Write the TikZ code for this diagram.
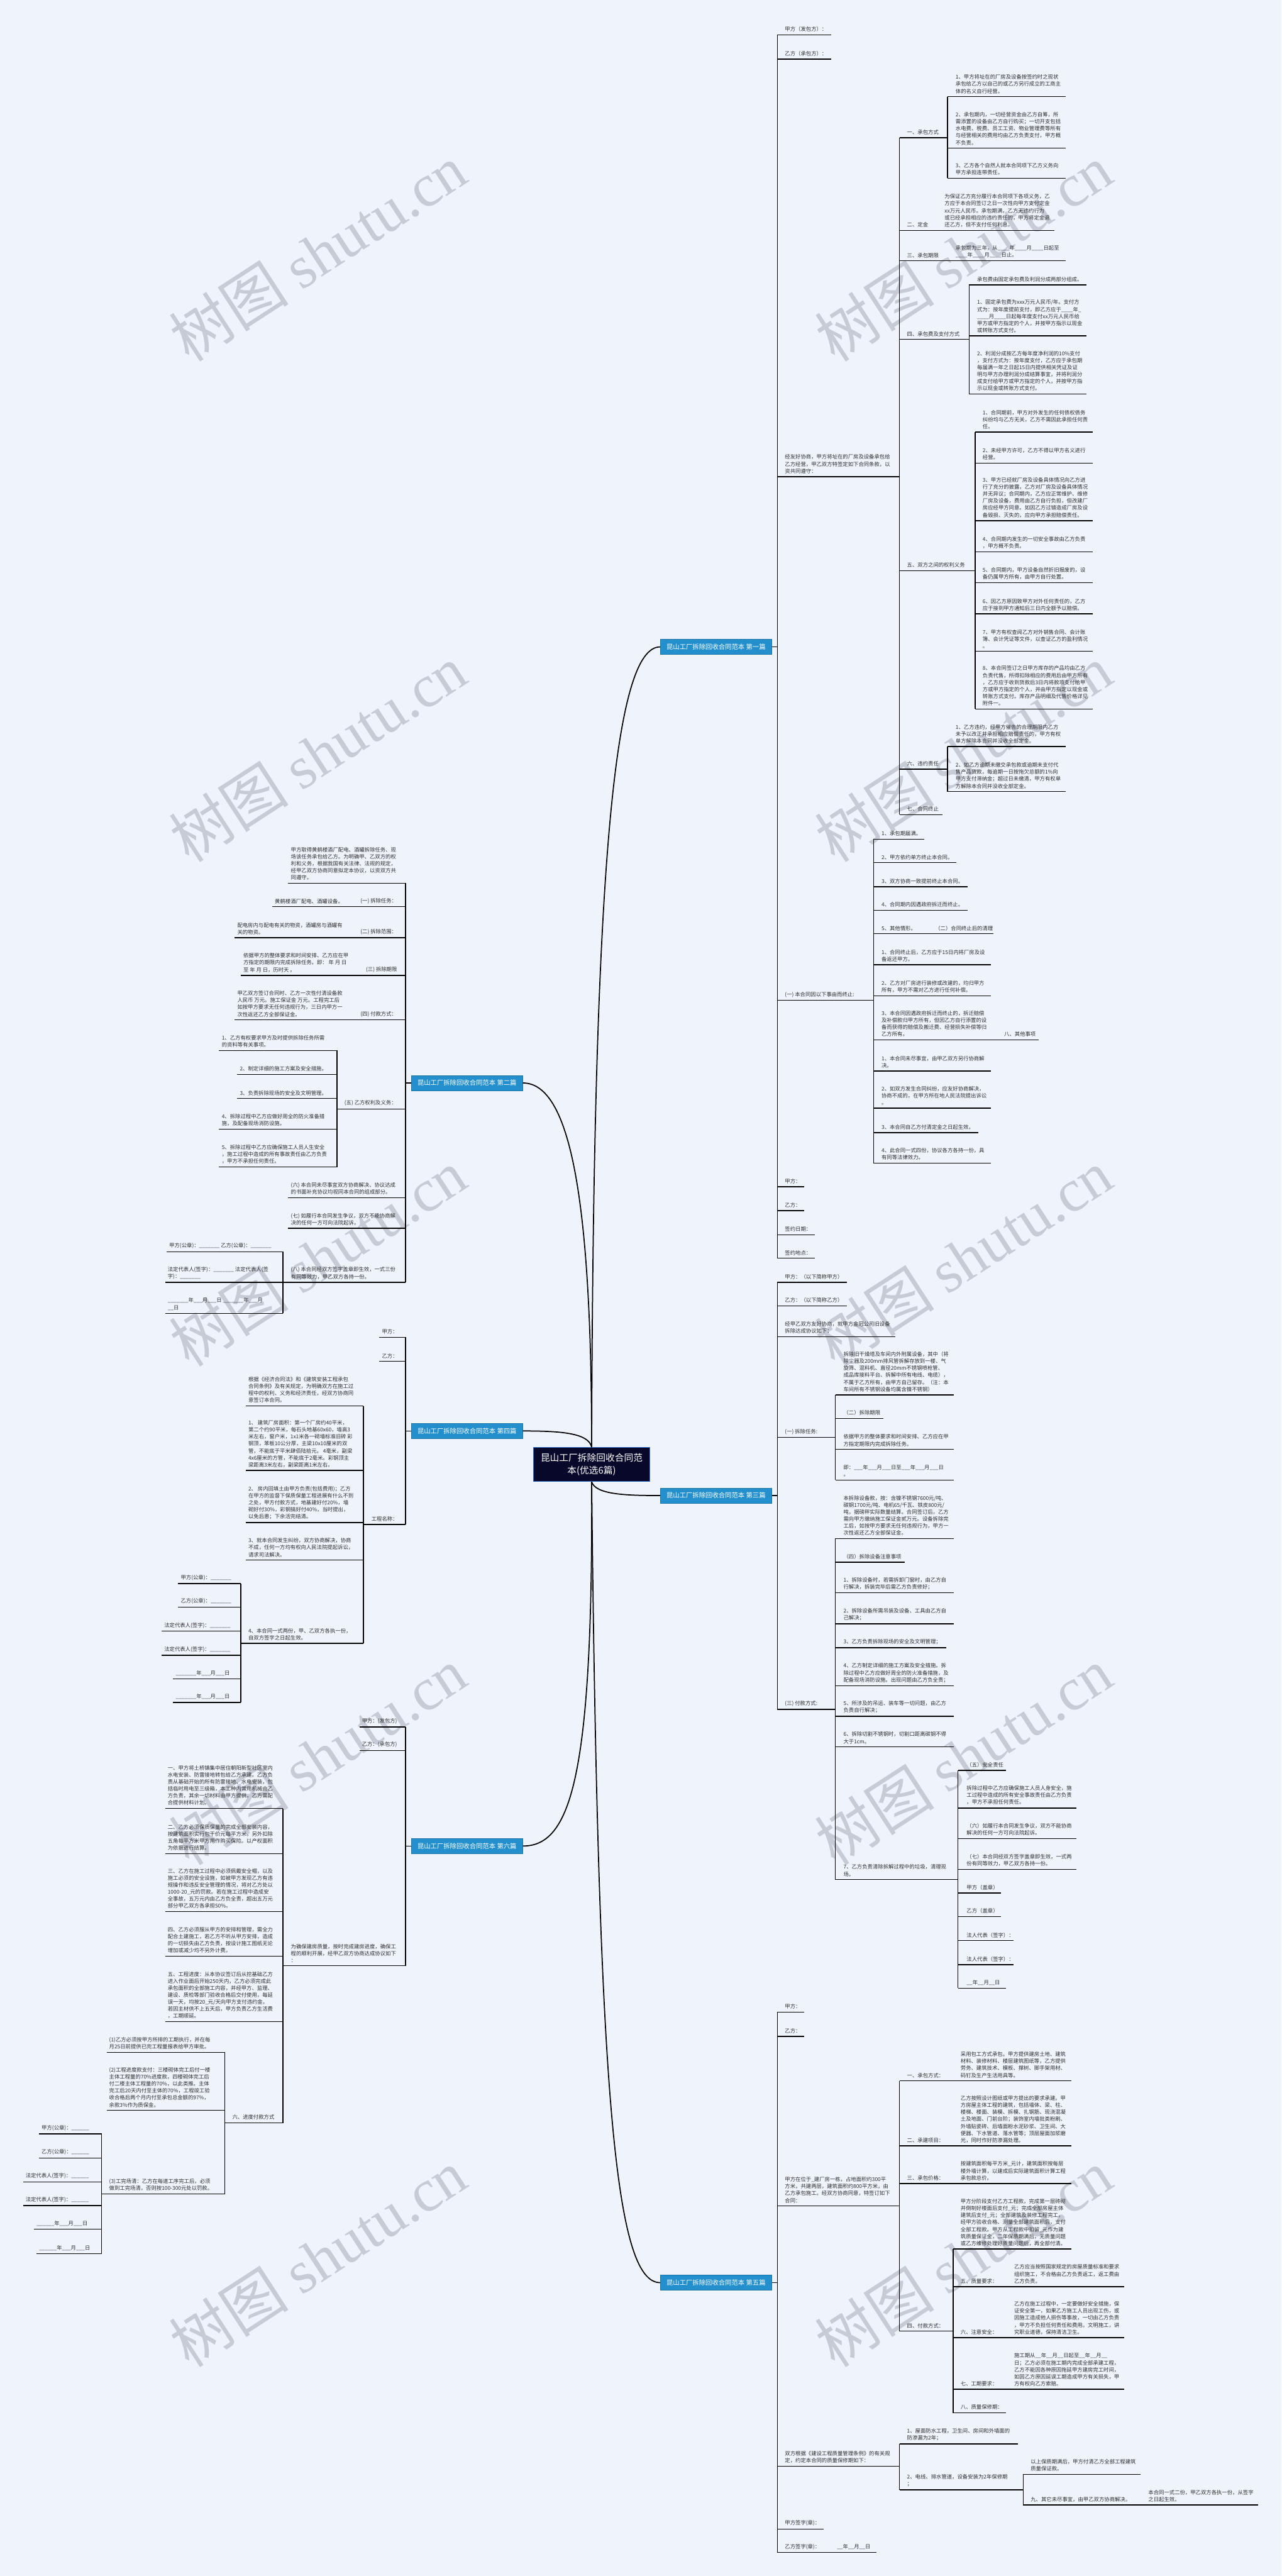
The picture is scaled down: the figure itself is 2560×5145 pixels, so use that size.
\documentclass[tikz,border=0pt]{standalone}
\usepackage{fontspec}
\setmainfont{Noto Sans CJK SC}
\newfontfamily\wmfont{Liberation Serif}

\definecolor{bgblue}{RGB}{238,243,252}
\definecolor{branchblue}{RGB}{35,144,205}
\definecolor{rootnavy}{RGB}{8,8,42}
\definecolor{rootedge}{RGB}{45,105,200}
\definecolor{wmgray}{RGB}{198,203,214}

\tikzset{
  txt/.style={inner sep=0pt, align=left, text=black!82, font=\fontsize{10.5}{14}\selectfont},
  uline/.style={line width=1.8pt, black},
  linkcurve/.style={line width=2.2pt, black},
  branchbox/.style={fill=branchblue, draw=branchblue!80!black, text=white, minimum width=223pt,
    minimum height=30pt, inner sep=0pt, font=\fontsize{13}{15}\selectfont},
  rootbox/.style={fill=rootnavy, draw=rootedge, line width=1.2pt, text=white, minimum width=232pt,
    minimum height=68pt, inner sep=0pt, align=center, font=\fontsize{18.5}{24.5}\selectfont},
  wmark/.style={text=wmgray, rotate=33, inner sep=0pt, font=\fontsize{120}{130}\selectfont}
}

% one item: name, left x, right x, underline y, text x, text
\newcommand{\twig}[6]{%
  \coordinate (#1-l) at (#2,#4);
  \coordinate (#1-r) at (#3,#4);
  \draw[uline] (#1-l) -- (#1-r);
  \node[txt, anchor=south west] (#1) at (#5,#4-6) {#6};
}

\begin{document}
\begin{tikzpicture}[x=1pt, y=-1pt]
\fill[bgblue] (0,0) rectangle (2560,5145);
\useasboundingbox (0,0) rectangle (2560,5145);

% 水印
\foreach \wy [count=\k] in {505,1505,2512,3508,4510} {
  \node[wmark] (wl\k) at (635,\wy) {树图 {\wmfont shutu.cn}};
  \node[wmark] (wr\k) at (1925,\wy) {树图 {\wmfont shutu.cn}};
}

% 中心与分支
\node[rootbox] (root) at (1182,2925) {昆山工厂拆除回收合同范\\本(优选6篇)};
\node[branchbox] (b1) at (1430.5,1292) {昆山工厂拆除回收合同范本 第一篇};
\node[branchbox] (b3) at (1430.5,2987) {昆山工厂拆除回收合同范本 第三篇};
\node[branchbox] (b5) at (1430.5,4559) {昆山工厂拆除回收合同范本 第五篇};
\node[branchbox] (b2) at (933,2163) {昆山工厂拆除回收合同范本 第二篇};
\node[branchbox] (b4) at (933,2858) {昆山工厂拆除回收合同范本 第四篇};
\node[branchbox] (b6) at (933,3687) {昆山工厂拆除回收合同范本 第六篇};

\draw[linkcurve] (root.north) .. controls (1185,1700) and (1230,1292) .. (b1.west);
\draw[linkcurve] (root.north) .. controls (1182,2400) and (1140,2163) .. (b2.east);
\draw[linkcurve] (root.north) .. controls (1176,2862) and (1120,2858) .. (b4.east);
\draw[linkcurve] (root.south) .. controls (1190,2985) and (1250,2987) .. (b3.west);
\draw[linkcurve] (root.south) .. controls (1185,3550) and (1140,3687) .. (b6.east);
\draw[linkcurve] (root.south) .. controls (1195,4200) and (1230,4559) .. (b5.west);

% ---------------- 第一篇
\twig{p1a}{1553}{1660}{70}{1568}{甲方（发包方）：}
\twig{p1b}{1553}{1660}{118}{1568}{乙方（承包方）：}
\twig{p1c}{1553}{1797}{952}{1568}{经友好协商，甲方将址在的厂房及设备承包给\\乙方经营，甲乙双方特签定如下合同条款，以\\资共同遵守：}
\twig{p1c1}{1797}{1893}{275}{1812}{一、承包方式}
\twig{p1c1a}{1893}{2129}{193}{1909}{1、甲方将址在的厂房及设备按签约时之现状\\承包给乙方以自己的或乙方另行成立的工商主\\体的名义自行经营。}
\twig{p1c1b}{1893}{2129}{296}{1909}{2、承包期内，一切经营资金由乙方自筹，所\\需添置的设备由乙方自行购买；一切开支包括\\水电费、税费、员工工资、物业管理费等所有\\与经营相关的费用均由乙方负责支付，甲方概\\不负责。}
\twig{p1c1c}{1893}{2129}{356}{1909}{3、乙方各个自然人就本合同项下乙方义务向\\甲方承担连带责任。}
\draw[uline] (p1c1a-l) -- (p1c1c-l);
\twig{p1c2}{1797}{2107}{460}{1812}{二、定金}
\node[txt, anchor=south west] (p1c2x) at (1887,454) {为保证乙方充分履行本合同项下各项义务，乙\\方应于本合同签订之日一次性向甲方支付定金\\xx万元人民币。承包期满，乙方无违约行为\\或已经承担相应的违约责任的，甲方将定金退\\还乙方，但不支付任何利息。};
\twig{p1c3}{1797}{2129}{521}{1812}{三、承包期限}
\node[txt, anchor=south west] (p1c3x) at (1909,515) {承包期为三年，从\_\_\_\_年\_\_\_\_月\_\_\_\_日起至\\\_\_\_\_年\_\_\_\_月\_\_\_\_日止。};
\twig{p1c4}{1797}{1936}{678}{1812}{四、承包费及支付方式}
\twig{p1c4a}{1936}{2171}{569}{1952}{承包费由固定承包费及利润分成两部分组成。}
\twig{p1c4b}{1936}{2171}{671}{1952}{1、固定承包费为xxx万元人民币/年。支付方\\式为：按年度提前支付，即乙方应于\_\_\_\_年\_\\\_\_\_\_月\_\_\_\_日起每年度支付xx万元人民币给\\甲方或甲方指定的个人，并按甲方指示以现金\\或转账方式支付。}
\twig{p1c4c}{1936}{2171}{787}{1952}{2、利润分成按乙方每年度净利润的10\%支付\\，支付方式为：按年度支付，乙方应于承包期\\每届满一年之日起15日内提供相关凭证及证\\明与甲方办理利润分成结算事宜，并将利润分\\成支付给甲方或甲方指定的个人，并按甲方指\\示以现金或转账方式支付。}
\draw[uline] (p1c4a-l) -- (p1c4c-l);
\twig{p1c5}{1797}{1948}{1140}{1812}{五、双方之间的权利义务}
\twig{p1c5a}{1948}{2183}{863}{1963}{1、合同期前，甲方对外发生的任何债权债务\\纠纷均与乙方无关，乙方不需因此承担任何责\\任。}
\twig{p1c5b}{1948}{2183}{925}{1963}{2、未经甲方许可，乙方不得以甲方名义进行\\经营。}
\twig{p1c5c}{1948}{2183}{1040}{1963}{3、甲方已经就厂房及设备具体情况向乙方进\\行了充分的披露，乙方对厂房及设备具体情况\\并无异议；合同期内，乙方应正常维护、维修\\厂房及设备，费用由乙方自行负担，但改建厂\\房应经甲方同意。如因乙方过错造成厂房及设\\备毁损、灭失的，应向甲方承担赔偿责任。}
\twig{p1c5d}{1948}{2183}{1102}{1963}{4、合同期内发生的一切安全事故由乙方负责\\，甲方概不负责。}
\twig{p1c5e}{1948}{2183}{1164}{1963}{5、合同期内，甲方设备自然折旧报废的，设\\备仍属甲方所有，由甲方自行处置。}
\twig{p1c5f}{1948}{2183}{1226}{1963}{6、因乙方原因致甲方对外任何责任的，乙方\\应于接到甲方通知后三日内全额予以赔偿。}
\twig{p1c5g}{1948}{2183}{1301}{1963}{7、甲方有权查阅乙方对外销售合同、会计账\\簿、会计凭证等文件，以查证乙方的盈利情况\\。}
\twig{p1c5h}{1948}{2183}{1416}{1963}{8、本合同签订之日甲方库存的产品均由乙方\\负责代售，所得扣除相应的费用后由甲方所有\\，乙方应于收到货款后3日内将款项支付给甲\\方或甲方指定的个人，并由甲方指定以现金或\\转账方式支付。库存产品明细及代售价格详见\\附件一。}
\draw[uline] (p1c5a-l) -- (p1c5h-l);
\twig{p1c6}{1797}{1893}{1536}{1812}{六、违约责任}
\twig{p1c6a}{1893}{2129}{1491}{1909}{1、乙方违约，经甲方催告的合理期限内乙方\\未予以改正并承担相应赔偿责任的，甲方有权\\单方解除本合同并没收全部定金。}
\twig{p1c6b}{1893}{2129}{1581}{1909}{2、如乙方逾期未缴交承包款或逾期未支付代\\售产品货款，每逾期一日按拖欠总额的1\%向\\甲方支付滞纳金；超过日未缴清，甲方有权单\\方解除本合同并没收全部定金。}
\draw[uline] (p1c6a-l) -- (p1c6b-l);
\twig{p1c7}{1797}{1883}{1627}{1812}{七、合同终止}
\draw[uline] (p1c1-l) -- (p1c7-l);
\twig{p1d}{1553}{1745}{1998}{1568}{(一) 本合同因以下事由而终止:}
\twig{p1d1}{1745}{1846}{1676}{1761}{1、承包期届满。}
\twig{p1d2}{1745}{1911}{1723}{1761}{2、甲方依约单方终止本合同。}
\twig{p1d3}{1745}{1933}{1771}{1761}{3、双方协商一致提前终止本合同。}
\twig{p1d4}{1745}{1933}{1818}{1761}{4、合同期内因遇政府拆迁而终止。}
\twig{p1d5}{1745}{1985}{1865}{1761}{5、其他情形。}
\node[txt, anchor=south west] (p1d5x) at (1868,1859) {（二）合同终止后的清理};
\twig{p1d6}{1745}{1980}{1927}{1761}{1、合同终止后，乙方应于15日内将厂房及设\\备返还甲方。}
\twig{p1d7}{1745}{1980}{1989}{1761}{2、乙方对厂房进行装修或改建的，均归甲方\\所有，甲方不需对乙方进行任何补偿。}
\twig{p1d8}{1745}{2075}{2077}{1761}{3、本合同因遇政府拆迁而终止的，拆迁赔偿\\及补偿款归甲方所有，但因乙方自行添置的设\\备而获得的赔偿及搬迁费、经营损失补偿等归\\乙方所有。}
\node[txt, anchor=south west] (p1d8x) at (2006,2071) {八、其他事项};
\twig{p1d9}{1745}{1980}{2139}{1761}{1、本合同未尽事宜，由甲乙双方另行协商解\\决。}
\twig{p1d10}{1745}{1980}{2213}{1761}{2、如双方发生合同纠纷，应友好协商解决，\\协商不成的，在甲方所在地人民法院提出诉讼\\。}
\twig{p1d11}{1745}{1954}{2262}{1761}{3、本合同自乙方付清定金之日起生效。}
\twig{p1d12}{1745}{1980}{2323}{1761}{4、此合同一式四份，协议各方各持一份，具\\有同等法律效力。}
\draw[uline] (p1d1-l) -- (p1d12-l);
\twig{p1e}{1553}{1606}{2370}{1568}{甲方：}
\twig{p1f}{1553}{1606}{2418}{1568}{乙方：}
\twig{p1g}{1553}{1628}{2466}{1568}{签约日期：}
\twig{p1h}{1553}{1628}{2513}{1568}{签约地点：}
\draw[uline] (p1a-l) -- (p1h-l);
\draw[uline] (b1.east) -- (b1.east -| p1a-l);

% ---------------- 第三篇
\twig{p3a}{1553}{1692}{2561}{1568}{甲方：（以下简称甲方）}
\twig{p3b}{1553}{1692}{2608}{1568}{乙方：（以下简称乙方）}
\twig{p3c}{1553}{1789}{2670}{1568}{经甲乙双方友好协商，就甲方金冠公司旧设备\\拆除达成协议如下：}
\twig{p3d}{1553}{1669}{2871}{1568}{(一) 拆除任务:}
\twig{p3d1}{1669}{1906}{2786}{1685}{拆除旧干燥塔及车间内外附属设备，其中（将\\除尘器及200mm排风管拆解存放到一楼、气\\旋筛、混料机、直径20mm不锈钢喷枪管、\\成品库接料平台、拆解中所有电线、电缆），\\不属于乙方所有，由甲方自己留存。（注：本\\车间所有不锈钢设备均属含镍不锈钢）}
\twig{p3d2}{1669}{1765}{2833}{1685}{（二）拆除期限}
\twig{p3d3}{1669}{1906}{2895}{1685}{依据甲方的整体要求和时间安排、乙方应在甲\\方指定期限内完成拆除任务。}
\twig{p3d4}{1669}{1906}{2956}{1685}{即：\_\_\_年\_\_\_月\_\_\_日至\_\_\_年\_\_\_月\_\_\_日\\。}
\draw[uline] (p3d1-l) -- (p3d4-l);
\twig{p3e}{1553}{1669}{3414}{1568}{(三) 付款方式:}
\twig{p3e1}{1669}{1906}{3073}{1685}{本拆除设备款，按：含镍不锈钢7600元/吨、\\碳钢1700元/吨、电机65/千瓦、铁皮800元/\\吨，据磅秤实际数量结算。合同签订后，乙方\\需向甲方缴纳施工保证金贰万元。设备拆除完\\工后，如按甲方要求无任何违规行为，甲方一\\次性返还乙方全部保证金。}
\twig{p3e2}{1669}{1808}{3120}{1685}{（四）拆除设备注意事项}
\twig{p3e3}{1669}{1906}{3181}{1685}{1、拆除设备时，若需拆卸门窗时，由乙方自\\行解决，拆装完毕后需乙方负责修好；}
\twig{p3e4}{1669}{1906}{3243}{1685}{2、拆除设备所需吊装及设备、工具由乙方自\\己解决；}
\twig{p3e5}{1669}{1890}{3291}{1685}{3、乙方负责拆除现场的安全及文明管理；}
\twig{p3e6}{1669}{1906}{3367}{1685}{4、乙方制定详细的施工方案及安全措施。拆\\除过程中乙方应做好周全的防火准备措施，及\\配备现场消防设施。出现问题由乙方负全责；}
\twig{p3e7}{1669}{1906}{3428}{1685}{5、所涉及的吊运、装车等一切问题，由乙方\\负责自行解决；}
\twig{p3e8}{1669}{1906}{3489}{1685}{6、拆除切割不锈钢时，切割口距离碳钢不得\\大于1cm。}
\twig{p3e9}{1669}{1914}{3754}{1685}{7、乙方负责清除拆解过程中的垃圾，清理现\\场。}
\draw[uline] (p3e1-l) -- (p3e9-l);
\twig{p3f1}{1914}{2010}{3536}{1931}{（五）安全责任}
\twig{p3f2}{1914}{2150}{3611}{1931}{拆除过程中乙方应确保施工人员人身安全，施\\工过程中造成的所有安全事故责任由乙方负责\\，甲方不承担任何责任。}
\twig{p3f3}{1914}{2150}{3672}{1931}{（六）如履行本合同发生争议，双方不能协商\\解决的任何一方可向法院起诉。}
\twig{p3f4}{1914}{2150}{3734}{1931}{（七）本合同经双方签字盖章即生效，一式两\\份有同等效力，甲乙双方各持一份。}
\twig{p3f5}{1914}{2000}{3781}{1931}{甲方（盖章）}
\twig{p3f6}{1914}{2000}{3828}{1931}{乙方（盖章）}
\twig{p3f7}{1914}{2025}{3876}{1931}{法人代表（签字）：}
\twig{p3f8}{1914}{2025}{3924}{1931}{法人代表（签字）：}
\twig{p3f9}{1914}{2010}{3971}{1931}{\_\_年\_\_月\_\_日}
\draw[uline] (p3f1-l) -- (p3f9-l);
\draw[uline] (p3a-l) -- (p3e-l);
\draw[uline] (b3.east) -- (b3.east -| p3a-l);

% ---------------- 第五篇
\twig{p5a}{1553}{1606}{4019}{1568}{甲方：}
\twig{p5b}{1553}{1606}{4067}{1568}{乙方：}
\twig{p5c}{1553}{1797}{4406}{1568}{甲方在位于\_建厂房一栋，占地面积约300平\\方米，共建两层，建筑面积约800平方米，由\\乙方承包施工。经双方协商同意，特签订如下\\合同：}
\twig{p5c1}{1797}{2140}{4156}{1812}{一、承包方式：}
\node[txt, anchor=south west] (p5c1x) at (1919,4150) {采用包工方式承包。甲方提供建房土地、建筑\\材料、装修材料、楼层建筑图纸等，乙方提供\\劳务、建筑技术、模板、撑树、脚手架用材、\\码钉及生产生活用具等。};
\twig{p5c2}{1797}{2140}{4286}{1812}{二、承建项目：}
\node[txt, anchor=south west] (p5c2x) at (1919,4280) {乙方按照设计图纸或甲方提出的要求承建。甲\\方房屋主体工程的建筑，包括墙体、梁、柱、\\楼梯、楼面、装模、拆模、扎钢筋、现浇混凝\\土及地面、门前台阶；装饰室内墙批类粉刷、\\外墙贴瓷砖、后墙面粉水泥砂浆、卫生间、大\\便器、下水管道、落水管等；顶层屋面加浆磨\\光，同时作好防渗漏处理。};
\twig{p5c3}{1797}{2140}{4361}{1812}{三、承包价格：}
\node[txt, anchor=south west] (p5c3x) at (1919,4355) {按建筑面积每平方米\_元计，建筑面积按每层\\楼外墙计算，以建成后实际建筑面积计算工程\\承包款总价。};
\twig{p5c4}{1797}{1904}{4656}{1812}{四、付款方式：}
\draw[uline] (p5c1-l) -- (p5c4-l);
\twig{p5d1}{1904}{2140}{4492}{1919}{甲方分阶段支付乙方工程款，完成第一层砖砌\\并倒制好楼面后支付\_元；完成全部房屋主体\\建筑后支付\_元；全部建筑及装修工程完工，\\经甲方验收合格、测量全部建筑面积后，支付\\全部工程款。甲方从工程款中扣留\_元作为建\\筑质量保证金，二年保质期满后，无质量问题\\或乙方维修处理好质量问题后，再全部付清。}
\twig{p5d2}{1904}{2246}{4567}{1919}{五、质量要求：}
\node[txt, anchor=south west] (p5d2x) at (2026,4561) {乙方应当按照国家规定的房屋质量标准和要求\\组织施工，不合格由乙方负责返工，返工费由\\乙方负责。};
\twig{p5d3}{1904}{2246}{4669}{1919}{六、注意安全：}
\node[txt, anchor=south west] (p5d3x) at (2026,4663) {乙方在施工过程中，一定要做好安全措施，保\\证安全第一，如果乙方施工人员出现工伤，或\\因施工造成他人损伤等事故，一切由乙方负责\\，甲方不负担任何责任和费用。文明施工，讲\\究职业道德，保持清洁卫生。};
\twig{p5d4}{1904}{2246}{4772}{1919}{七、工期要求：}
\node[txt, anchor=south west] (p5d4x) at (2026,4766) {施工期从\_\_年\_\_月\_\_日起至\_\_年\_\_月\_\_\\日；乙方必须在施工期内完成全部承建工程，\\乙方不能因各种原因拖延甲方建房完工时间，\\如因乙方原因延误工期造成甲方有关损失，甲\\方有权向乙方索赔。};
\twig{p5d5}{1904}{2010}{4819}{1919}{八、质量保修期：}
\draw[uline] (p5d1-l) -- (p5d5-l);
\twig{p5e}{1553}{1797}{4926}{1568}{双方根据《建设工程质量管理条例》的有关规\\定，约定本合同的质量保修期如下：}
\twig{p5e1}{1797}{2034}{4881}{1812}{1、屋面防水工程，卫生间、房间和外墙面的\\防渗漏为2年；}
\twig{p5e2}{1797}{2044}{4973}{1812}{2、电线、排水管道，设备安装为2年保修期\\；}
\draw[uline] (p5e1-l) -- (p5e2-l);
\twig{p5f1}{2044}{2279}{4942}{2059}{以上保质期满后，甲方付清乙方全部工程建筑\\质量保证款。}
\twig{p5f2}{2044}{2514}{5003}{2059}{九、其它未尽事宜，由甲乙双方协商解决。}
\node[txt, anchor=south west] (p5f2x) at (2294,4997) {本合同一式二份，甲乙双方各执一份，从签字\\之日起生效。};
\draw[uline] (p5f1-l) -- (p5f2-l);
\twig{p5g}{1553}{1645}{5051}{1568}{甲方签字(章)：}
\twig{p5h}{1553}{1751}{5098}{1568}{乙方签字(章)：}
\node[txt, anchor=south west] (p5hx) at (1672,5092) {\_\_年\_\_月\_\_日};
\draw[uline] (p5a-l) -- (p5h-l);
\draw[uline] (b5.east) -- (b5.east -| p5a-l);

% ---------------- 第二篇
\twig{p2a}{575}{810}{1764}{581}{甲方取得黄鹤楼酒厂配电、酒罐拆除任务、现\\场该任务承包给乙方。为明确甲、乙双方的权\\利和义务，根据我国有关法律、法规的规定，\\经甲乙双方协商同意拟定本协议，以资双方共\\同遵守。}
\twig{p2b}{544}{810}{1811}{549}{黄鹤楼酒厂配电、酒罐设备。}
\node[txt, anchor=south west] (p2bx) at (720,1805) {(一) 拆除任务：};
\twig{p2c}{469}{810}{1873}{474}{配电房内与配电有关的物资，酒罐房与酒罐有\\关的物资。}
\node[txt, anchor=south west] (p2cx) at (720,1867) {(二) 拆除范围：};
\twig{p2d}{481}{810}{1948}{486}{依据甲方的整体要求和时间安排、乙方应在甲\\方指定的期限内完成拆除任务。即： 年 月 日\\至 年 月 日，历时天 。}
\node[txt, anchor=south west] (p2dx) at (731,1942) {(三) 拆除期限};
\twig{p2e}{469}{810}{2037}{474}{甲乙双方签订合同时、乙方一次性付清设备款\\人民币 万元。施工保证金 万元。工程完工后\\如按甲方要求无任何违规行为，三日内甲方一\\次性返还乙方全部保证金。}
\node[txt, anchor=south west] (p2ex) at (720,2031) {(四) 付款方式：};
\twig{p2f}{673}{810}{2215}{688}{(五) 乙方权利及义务：}
\twig{p2f1}{437}{673}{2098}{443}{1、乙方有权要求甲方及时提供拆除任务所需\\的资料等有关事项。}
\twig{p2f2}{474}{673}{2146}{479}{2、制定详细的施工方案及安全措施。}
\twig{p2f3}{474}{673}{2194}{479}{3、负责拆除现场的安全及文明管理。}
\twig{p2f4}{437}{673}{2255}{443}{4、拆除过程中乙方应做好周全的防火准备措\\施，及配备现场消防设施。}
\twig{p2f5}{437}{673}{2331}{443}{5、拆除过程中乙方应确保施工人员人生安全\\，施工过程中造成的所有事故责任由乙方负责\\，甲方不承担任何责任。}
\draw[uline] (p2f1-r) -- (p2f5-r);
\twig{p2g}{575}{810}{2392}{581}{(六) 本合同未尽事宜双方协商解决、协议达成\\的书面补充协议均视同本合同的组成部分。}
\twig{p2h}{575}{810}{2453}{581}{(七) 如履行本合同发生争议，双方不能协商解\\决的任何一方可向法院起诉。}
\twig{p2i}{565}{810}{2561}{581}{(八) 本合同经双方签字盖章即生效，一式三份\\有同等效力，甲乙双方各持一份。}
\twig{p2i1}{333}{565}{2500}{338}{甲方(公章)：\_\_\_\_\_\_\_ 乙方(公章)：\_\_\_\_\_\_\_}
\twig{p2i2}{330}{565}{2561}{335}{法定代表人(签字)：\_\_\_\_\_\_\_ 法定代表人(签\\字)：\_\_\_\_\_\_\_}
\twig{p2i3}{330}{565}{2623}{335}{\_\_\_\_\_\_\_年\_\_\_月\_\_\_日 \_\_\_\_\_\_\_年\_\_\_月\\\_\_日}
\draw[uline] (p2i1-r) -- (p2i3-r);
\draw[uline] (p2a-r) -- (p2i-r);
\draw[uline] (b2.west) -- (b2.west -| p2a-r);

% ---------------- 第四篇
\twig{p4a}{758}{810}{2671}{763}{甲方：}
\twig{p4b}{758}{810}{2719}{763}{乙方：}
\twig{p4c}{726}{810}{3045}{742}{工程名称：}
\twig{p4c1}{491}{726}{2808}{496}{根据《经济合同法》和《建筑安装工程承包\\合同条例》及有关规定，为明确双方在施工过\\程中的权利、义务和经济责任，经双方协商同\\意签订本合同。}
\twig{p4c2}{491}{726}{2937}{496}{1、 建筑厂房面积：第一个厂房约40平米，\\第二个约90平米，每石头地基60x60，墙高3\\米左右，窗户米，1x1米各一砌墙标准旧砖 彩\\钢顶，苯板10公分厚，主梁10x10厘米的双\\管，不能底于平米肆佰陆拾元。 4毫米，副梁\\4x6厘米的方管，不能底于2毫米。彩钢顶主\\梁距离3米左右，副梁距离1米左右。}
\twig{p4c3}{491}{726}{3041}{496}{2、 房内回填土由甲方负责(包括费用)；乙方\\在甲方的监督下保质保量工程进展有什么不到\\之处，甲方付款方式，地基建好付20\%，墙\\砌好付30\%，彩钢搞好付40\%，当时提出，\\以免后患；下余活完结清。}
\twig{p4c4}{491}{726}{3116}{496}{3、就本合同发生纠纷，双方协商解决，协商\\不成，任何一方均有权向人民法院提起诉讼，\\请求司法解决。}
\twig{p4c5}{481}{726}{3282}{496}{4、本合同一式两份，甲、乙双方各执一份，\\自双方签字之日起生效。}
\draw[uline] (p4c1-r) -- (p4c5-r);
\twig{p4e1}{356}{481}{3163}{361}{甲方(公章)：\_\_\_\_\_\_\_}
\twig{p4e2}{356}{481}{3210}{361}{乙方(公章)：\_\_\_\_\_\_\_}
\twig{p4e3}{323}{481}{3258}{328}{法定代表人(签字)：\_\_\_\_\_\_\_}
\twig{p4e4}{323}{481}{3306}{328}{法定代表人(签字)：\_\_\_\_\_\_\_}
\twig{p4e5}{346}{481}{3353}{351}{\_\_\_\_\_\_\_年\_\_\_月\_\_\_日}
\twig{p4e6}{346}{481}{3400}{351}{\_\_\_\_\_\_\_年\_\_\_月\_\_\_日}
\draw[uline] (p4e1-r) -- (p4e6-r);
\draw[uline] (p4a-r) -- (p4c-r);
\draw[uline] (b4.west) -- (b4.west -| p4a-r);

% ---------------- 第六篇
\twig{p6a}{718}{810}{3449}{723}{甲方：(发包方)}
\twig{p6b}{718}{810}{3496}{723}{乙方：(承包方)}
\twig{p6c}{565}{810}{3926}{581}{为确保建房质量，按时完成建房进度，确保工\\程的顺利开展，经甲乙双方协商达成协议如下\\：}
\twig{p6c1}{330}{565}{3612}{335}{一、甲方将土桥镇集中居住朝阳新型社区室内\\水电安装、防雷接地转包给乙方承建。乙方负\\责从基础开始的所有防雷接地、水电安装，包\\括临时用电至三级箱，本工种内常用机械由乙\\方负责，其余一切材料由甲方提供，乙方需配\\合提供材料计划。}
\twig{p6c2}{330}{565}{3702}{335}{二、乙方必须保质保量的完成全部安装内容，\\按建筑面积实行包干价元每平方米，另外扣除\\五角每平方米甲方用作购买保险。以产权面积\\为依据进行结算。}
\twig{p6c3}{330}{565}{3818}{335}{三、乙方在施工过程中必须佩戴安全帽，以及\\施工必须的安全设施，如被甲方发现乙方有违\\规操作和违反安全管理的情况，将对乙方处以\\1000-20\_元的罚款。若在施工过程中造成安\\全事故，五万元内由乙方负全责，超出五万元\\部分甲乙双方各承担50\%。}
\twig{p6c4}{330}{565}{3907}{335}{四、乙方必须服从甲方的安排和管理，需全力\\配合土建施工，若乙方不听从甲方安排，造成\\的一切损失由乙方负责，按设计施工图纸无论\\增加或减少均不另外计费。}
\twig{p6c5}{330}{565}{4038}{335}{五、工程进度：从本协议签订后从挖基础乙方\\进入作业面后开始250天内，乙方必须完成此\\承包面积的全部施工内容，并经甲方、监理、\\建设、质检等部门验收合格后交付使用，每延\\误一天，均按20\_元/天向甲方支付违约金。\\若因主材供不上五天后，甲方负责乙方生活费\\，工期顺延。}
\twig{p6c6}{449}{565}{4240}{464}{六、进度付款方式}
\draw[uline] (p6c1-r) -- (p6c6-r);
\twig{p6d1}{213}{449}{4099}{218}{(1)乙方必须按甲方所排的工期执行，并在每\\月25日前提供已完工程量报表给甲方审批。}
\twig{p6d2}{213}{449}{4215}{218}{(2)工程进度款支付：三楼砌体完工后付一楼\\主体工程量的70\%进度款，四楼砌体完工后\\付二楼主体工程量的70\%，以此类推。主体\\完工后20天内付至主体的70\%，工程竣工验\\收合格后两个月内付至承包总金额的97\%，\\余款3\%作为质保金。}
\twig{p6d3}{203}{449}{4382}{218}{(3)工完场清：乙方在每道工序完工后，必须\\做到工完场清，否则按100-300元处以罚款。}
\draw[uline] (p6d1-r) -- (p6d3-r);
\twig{p6e1}{78}{203}{4262}{83}{甲方(公章)：\_\_\_\_\_\_}
\twig{p6e2}{78}{203}{4310}{83}{乙方(公章)：\_\_\_\_\_\_}
\twig{p6e3}{46}{203}{4358}{51}{法定代表人(签字)：\_\_\_\_\_\_}
\twig{p6e4}{46}{203}{4405}{51}{法定代表人(签字)：\_\_\_\_\_\_}
\twig{p6e5}{68}{203}{4452}{73}{\_\_\_\_\_\_年\_\_\_月\_\_\_日}
\twig{p6e6}{73}{203}{4501}{78}{\_\_\_\_\_\_年\_\_\_月\_\_\_日}
\draw[uline] (p6e1-r) -- (p6e6-r);
\draw[uline] (p6a-r) -- (p6c-r);
\draw[uline] (b6.west) -- (b6.west -| p6a-r);
\end{tikzpicture}
\end{document}
